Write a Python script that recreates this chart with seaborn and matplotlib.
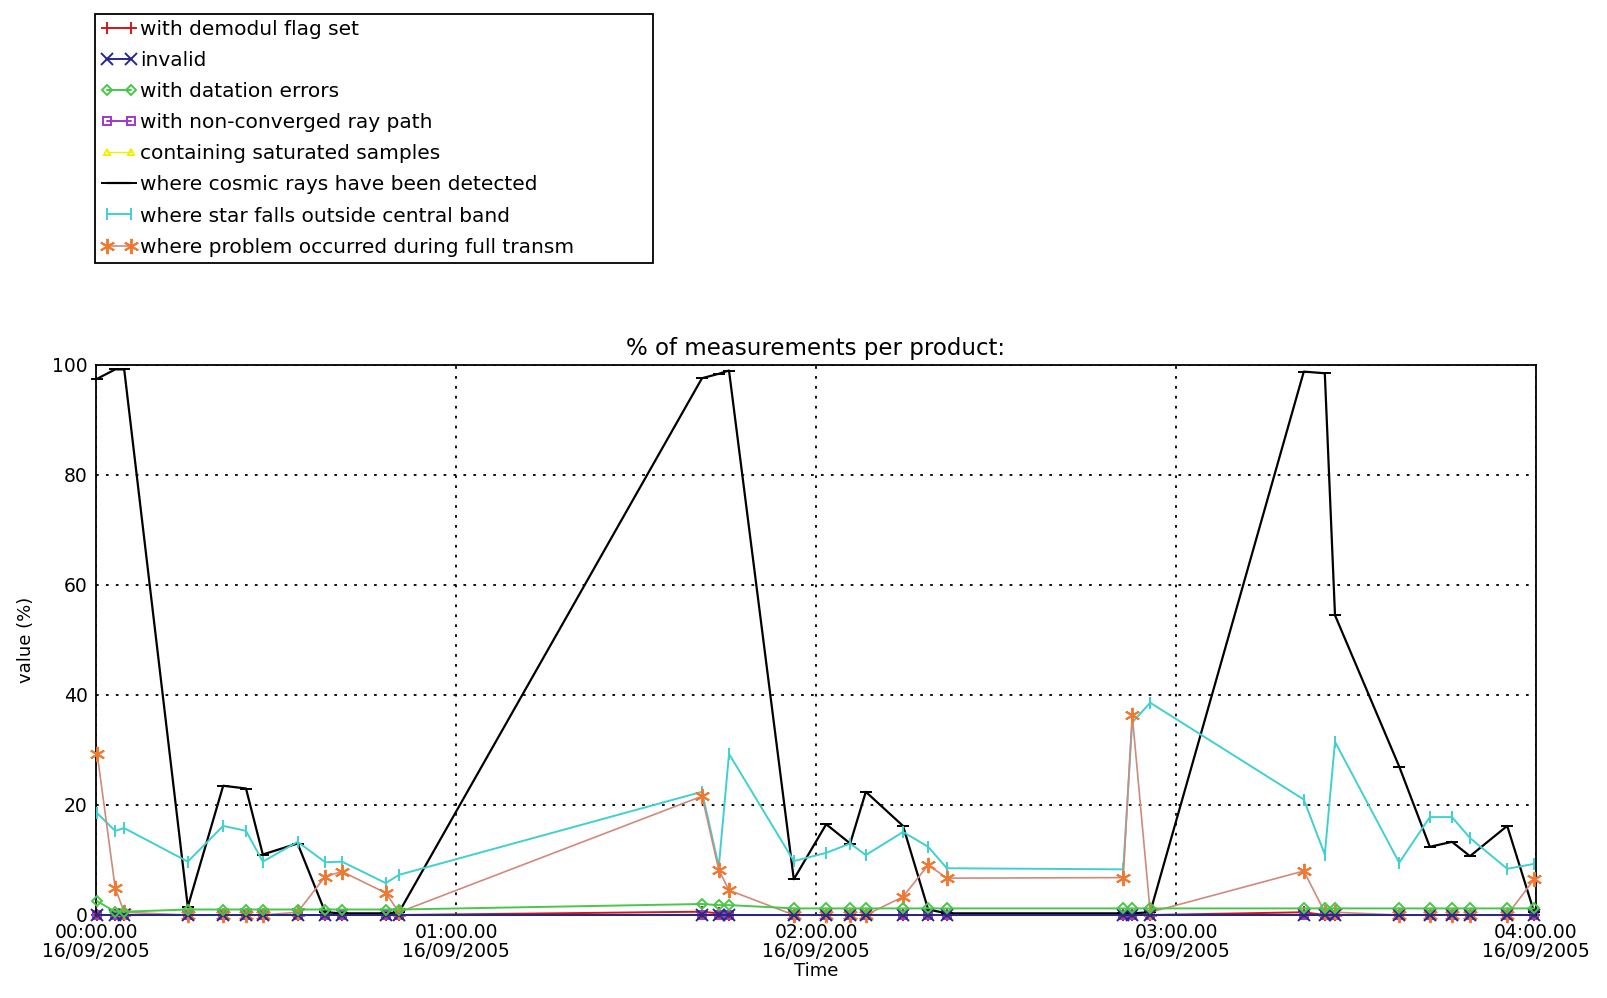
import pandas as pd
import seaborn as sns
import matplotlib.pyplot as plt
import numpy as np

# Sample times, minutes after 00:00 on 16/09/2005
minutes = [0.2, 3.2, 4.7, 15.3, 21.2, 25.0, 27.8, 33.6, 38.2, 41.0, 48.3, 50.5,
           101.0, 103.8, 105.5, 116.3, 121.7, 125.7, 128.3, 134.5, 138.7, 141.8,
           171.2, 172.7, 175.7, 201.3, 204.8, 206.5, 217.2, 222.3, 226.0, 229.0,
           235.2, 239.7]

demodul = [0, 0, 0, 0, 0, 0, 0, 0, 0, 0, 0, 0,
           0.6, 0.3, 0, 0, 0, 0, 0, 0, 0, 0,
           0, 0, 0, 0.5, 0, 0, 0, 0, 0, 0,
           0, 0]
invalid = [0] * 34
datation = [2.5, 0.6, 0.6, 1.0, 1.0, 1.0, 1.0, 1.0, 1.0, 1.0, 1.0, 1.0,
            2.0, 1.8, 1.8, 1.2, 1.2, 1.2, 1.2, 1.2, 1.2, 1.2,
            1.2, 1.2, 1.2, 1.2, 1.2, 1.2, 1.2, 1.2, 1.2, 1.2,
            1.2, 1.2]
nonconv = [0] * 34
saturated = [0] * 34
cosmic = [97.5, 99.2, 99.2, 1.5, 23.5, 23.0, 11.0, 13.0, 0.5, 0.3, 0.3, 0.5,
          97.6, 98.4, 99.0, 6.5, 16.5, 13.0, 22.4, 16.2, 1.0, 0.3,
          0.3, 0.3, 0.5, 98.8, 98.5, 54.5, 27.0, 12.4, 13.3, 10.7,
          16.2, 0.5]
star_band = [18.5, 15.3, 15.8, 9.7, 16.2, 15.3, 9.7, 13.3, 9.6, 9.7, 5.8, 7.3,
             22.4, 8.8, 29.3, 9.8, 11.3, 13.0, 10.9, 15.1, 12.4, 8.5,
             8.3, 35.0, 38.6, 21.0, 11.0, 31.5, 9.5, 17.8, 17.8, 14.0,
             8.4, 9.3]
full_transm = [29.3, 4.9, 0.5, 0, 0, 0, 0, 0.5, 7.0, 7.9, 4.0, 0.5,
               21.6, 8.2, 4.5, 0, 0, 0, 0, 3.3, 9.1, 6.7,
               6.8, 36.4, 0.5, 8.0, 0.5, 0.5, 0, 0, 0, 0,
               0, 6.5]

labels = ['with demodul flag set', 'invalid', 'with datation errors',
          'with non-converged ray path', 'containing saturated samples',
          'where cosmic rays have been detected',
          'where star falls outside central band',
          'where problem occurred during full transm']

tick_minutes = [0, 60, 120, 180, 240]
tick_labels = ['00:00.00\n16/09/2005', '01:00.00\n16/09/2005', '02:00.00\n16/09/2005',
               '03:00.00\n16/09/2005', '04:00.00\n16/09/2005']

sns.set_theme(style='white')
plt.rcParams['font.family'] = ['DejaVu Sans']
for key in ['text.color', 'axes.labelcolor', 'xtick.color', 'ytick.color']:
    plt.rcParams[key] = 'black'

fig = plt.figure(figsize=(16.07, 9.98), dpi=100)
ax = fig.add_axes([96 / 1607, 1 - 915 / 998, 1440 / 1607, 550 / 998])

asterisk = (6, 2, 0)
# (values, line colour, marker, marker colour, marker size, fill, line width, zorder)
styles = [
    (demodul, '#d01818', '+', '#d01818', 9, 'full', 1.4, 2),
    (invalid, '#28288c', 'x', '#28288c', 8, 'full', 1.4, 5),
    (datation, '#48c848', 'D', '#48c848', 5, 'none', 1.4, 6),
    (nonconv, '#a038c8', 's', '#a038c8', 6, 'none', 1.4, 2),
    (saturated, '#f0f000', '^', '#f0f000', 5, 'none', 1.0, 1.5),
    (cosmic, '#000000', '_', '#000000', 9, 'full', 1.6, 3),
    (star_band, '#40d0d0', '|', '#40d0d0', 9, 'full', 1.4, 3),
    (full_transm, '#d08a7c', asterisk, '#f07830', 11, 'full', 1.2, 4),
]

for (vals, lc, mk, mc, ms, fs, lw, z), lab in zip(styles, labels):
    sns.lineplot(x=minutes, y=vals, ax=ax, color=lc, marker=mk, markersize=ms,
                 markeredgecolor=mc, markerfacecolor=mc if fs == 'full' else 'none',
                 markeredgewidth=1.4, linewidth=lw, estimator=None, sort=False,
                 label=lab, legend=False, clip_on=False, zorder=z)

ax.set_xlim(0, 240)
ax.set_ylim(0, 100)
ax.set_xticks(tick_minutes)
ax.set_xticklabels(tick_labels, fontsize=13.5, linespacing=0.95)
ax.set_yticks([0, 20, 40, 60, 80, 100])
ax.set_yticklabels(['0', '20', '40', '60', '80', '100'], fontsize=13.5)
ax.tick_params(direction='in', length=5, color='black', pad=6)
ax.grid(True, color='black', linestyle=(0, (1.5, 4)), linewidth=1.3)
for sp in ax.spines.values():
    sp.set_color('black')
    sp.set_linewidth(1.3)

ax.set_title('% of measurements per product:', fontsize=16.5, pad=7)
ax.set_xlabel('Time', fontsize=13, labelpad=1)
ax.set_ylabel('value (%)', fontsize=13, labelpad=12)

handles, labs = ax.get_legend_handles_labels()
leg = fig.legend(handles, labs, loc='upper left',
                 bbox_to_anchor=(95 / 1607, 1 - 256 / 998, 558 / 1607, 242 / 998),
                 mode='expand', borderaxespad=0, fontsize=14.5, numpoints=2,
                 handlelength=1.8, handletextpad=0.15, labelspacing=0.6,
                 borderpad=0.3, fancybox=False, framealpha=1)
leg.get_frame().set_edgecolor('black')
leg.get_frame().set_linewidth(1.3)

fig.savefig('out.png', dpi=100)
